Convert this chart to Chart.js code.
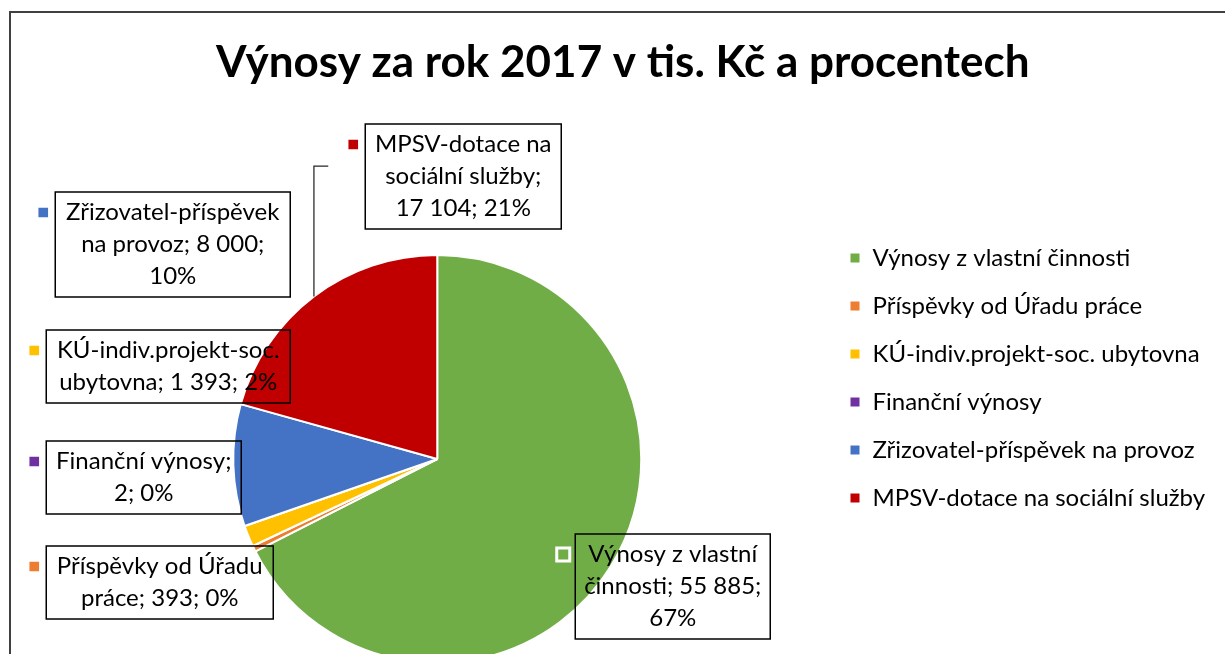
<!DOCTYPE html>
<html>
<head>
<meta charset="utf-8">
<script src="https://cdn.jsdelivr.net/npm/chart.js@4.4.1/dist/chart.umd.min.js"></script>
<style>
    html, body { margin: 0; padding: 0; background: #fff; overflow: hidden; }
    #contenedor { position: absolute; left: 0; top: 0; width: 1225px; height: 720px; }
</style>
</head>
<body>
<div id="contenedor"><canvas id="graficoVynosy" width="1225" height="720"></canvas></div>
<script>
    // Datos del gráfico
    var titulo = 'Výnosy za rok 2017 v tis. Kč a procentech';
    var categorias = [
        'Výnosy z vlastní činnosti',
        'Příspěvky od Úřadu práce',
        'KÚ-indiv.projekt-soc. ubytovna',
        'Finanční výnosy',
        'Zřizovatel-příspěvek na provoz',
        'MPSV-dotace na sociální služby'
    ];
    var valores = [55885, 393, 1393, 2, 8000, 17104];
    var colores = ['#70AD47', '#ED7D31', '#FFC000', '#7030A0', '#4472C4', '#C00000'];

    // Posición de cada etiqueta respecto al centro del pastel (px)
    var etiquetas = [
        { dx: 138, dy: 75, ancho: 195 },
        { dx: -391, dy: 87, ancho: 227 },
        { dx: -391, dy: -129, ancho: 244 },
        { dx: -391, dy: -18, ancho: 195 },
        { dx: -382, dy: -267, ancho: 235 },
        { dx: -72, dy: -335, ancho: 196, guia: true }
    ];
    var altoLinea = 32;
    var fuenteEtiqueta = '24px Lato';

    function formatoMiles(n) {
        return String(n).replace(/\B(?=(\d{3})+(?!\d))/g, '\u00a0');
    }

    // Porcentajes redondeados que suman 100 (como Excel)
    function porcentajes(vals) {
        var total = vals.reduce(function (a, b) { return a + b; }, 0);
        var exactos = vals.map(function (v) { return v * 100 / total; });
        var base = exactos.map(Math.floor);
        var resto = 100 - base.reduce(function (a, b) { return a + b; }, 0);
        var orden = exactos.map(function (e, i) { return i; });
        orden.sort(function (a, b) { return (exactos[b] - base[b]) - (exactos[a] - base[a]); });
        for (var k = 0; k < resto; k++) {
            base[orden[k]]++;
        }
        return base;
    }
    var pct = porcentajes(valores);

    function partirTexto(ctx, texto, maximo) {
        var palabras = texto.split(' ');
        var lineas = [];
        var actual = '';
        for (var i = 0; i < palabras.length; i++) {
            var prueba = actual ? actual + ' ' + palabras[i] : palabras[i];
            if (actual && ctx.measureText(prueba).width > maximo) {
                lineas.push(actual);
                actual = palabras[i];
            } else {
                actual = prueba;
            }
        }
        if (actual) lineas.push(actual);
        return lineas;
    }

    // Marco exterior del gráfico
    var pluginMarco = {
        id: 'marco',
        beforeDraw: function (chart) {
            var ctx = chart.ctx;
            ctx.save();
            ctx.fillStyle = '#fff';
            ctx.fillRect(0, 0, chart.width, chart.height);
            ctx.strokeStyle = '#404040';
            ctx.lineWidth = 2;
            ctx.strokeRect(10, 12, chart.width + 40, chart.height + 40);
            ctx.restore();
        },
        // la leyenda puede usar todo el ancho hasta el borde (sin recortar el texto)
        afterLayout: function (chart) {
            if (chart.legend) {
                chart.legend.right = chart.width;
                chart.legend.width = chart.legend.right - chart.legend.left;
            }
        }
    };

    // Etiquetas de datos con recuadro, clave de color y línea guía
    var pluginEtiquetas = {
        id: 'etiquetas',
        afterDatasetsDraw: function (chart) {
            var ctx = chart.ctx;
            var arcos = chart.getDatasetMeta(0).data;
            ctx.save();
            ctx.font = fuenteEtiqueta;
            arcos.forEach(function (arco, i) {
                var e = etiquetas[i];
                var texto = categorias[i] + '; ' + formatoMiles(valores[i]) + '; ' + pct[i] + '%';
                var lineas = partirTexto(ctx, texto, e.ancho - 6);
                var x = arco.x + e.dx;
                var y = arco.y + e.dy;
                var h = lineas.length * altoLinea + 9;

                if (e.guia) {
                    var medio = (arco.startAngle + arco.endAngle) / 2;
                    var px = arco.x + Math.cos(medio) * arco.outerRadius;
                    var py = arco.y + Math.sin(medio) * arco.outerRadius;
                    ctx.beginPath();
                    ctx.moveTo(x - 37, y + 42);
                    ctx.lineTo(px, y + 42);
                    ctx.lineTo(px, py);
                    ctx.strokeStyle = '#262626';
                    ctx.lineWidth = 1.25;
                    ctx.stroke();
                }

                ctx.strokeStyle = '#000';
                ctx.lineWidth = 1.5;
                ctx.strokeRect(x, y, e.ancho, h);

                ctx.fillStyle = colores[i];
                ctx.fillRect(x - 17, y + 15.5, 10, 10);
                ctx.strokeStyle = '#fff';
                ctx.lineWidth = 3;
                ctx.strokeRect(x - 18.5, y + 14, 13, 13);

                ctx.fillStyle = '#000';
                ctx.textAlign = 'center';
                ctx.textBaseline = 'middle';
                for (var k = 0; k < lineas.length; k++) {
                    ctx.fillText(lineas[k], x + e.ancho / 2, y + 4.5 + altoLinea * (k + 0.5));
                }
            });
            ctx.restore();
        }
    };

    var ctx = document.getElementById('graficoVynosy').getContext('2d');
    var grafico = new Chart(ctx, {
        type: 'pie',
        data: {
            labels: categorias,
            datasets: [{
                data: valores,
                backgroundColor: colores,
                borderColor: '#fff',
                borderWidth: 2,
                radius: 204
            }]
        },
        options: {
            responsive: false,
            animation: false,
            devicePixelRatio: 1,
            layout: {
                padding: { left: 49, right: 28.5, top: 0, bottom: 24 }
            },
            plugins: {
                title: {
                    display: true,
                    text: titulo,
                    color: '#000',
                    font: { family: 'Lato', size: 44, weight: 'bold', lineHeight: 1.2 },
                    padding: { top: 36, bottom: 133.2 }
                },
                legend: {
                    position: 'right',
                    align: 'start',
                    fullSize: false,
                    maxWidth: 371,
                    labels: {
                        boxWidth: 11,
                        boxHeight: 11,
                        padding: 24,
                        color: '#000',
                        font: { family: 'Lato', size: 24 }
                    }
                },
                tooltip: { enabled: false }
            }
        },
        plugins: [pluginMarco, pluginEtiquetas]
    });
</script>
</body>
</html>
